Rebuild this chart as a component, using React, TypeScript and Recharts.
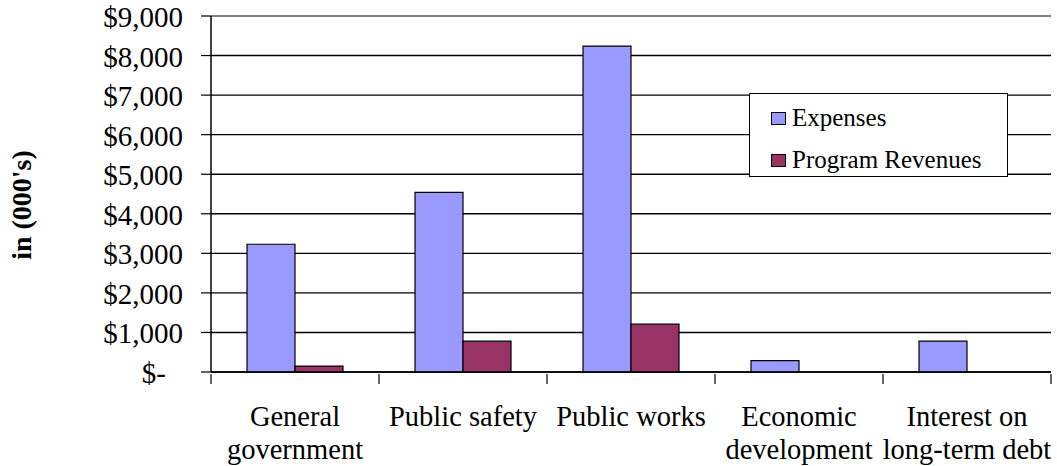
import React from 'react';
import { BarChart, Bar, XAxis, YAxis, CartesianGrid, Legend, ReferenceLine } from 'recharts';

const categories = ['General\ngovernment', 'Public safety', 'Public works', 'Economic\ndevelopment', 'Interest on\nlong-term debt'];
const expenses = [3230, 4540, 8240, 290, 780];
const programRevenues = [150, 780, 1210, 0, 0];
const yTicks = [0, 1000, 2000, 3000, 4000, 5000, 6000, 7000, 8000, 9000];

const data = categories.map((c, i) => ({ name: c, expenses: expenses[i], revenues: programRevenues[i] }));

const FONT = "'Liberation Serif', 'Times New Roman', serif";

const fmt = (v: number) => (v === 0 ? '$-' : '$' + v.toLocaleString('en-US'));

const YTick = (props: any) => {
  const { x, y, payload } = props;
  const v = payload.value as number;
  return (
    <text x={x - (v === 0 ? 17 : 0)} y={y + 11} textAnchor="end" style={{ fontFamily: FONT }} fontSize={29} fill="#000">
      {fmt(v)}
    </text>
  );
};

const XTick = (props: any) => {
  const { x, y, payload, index, visibleTicksCount } = props;
  const half = payload.offset || 84;
  const lines = String(payload.value).split('\n');
  const axisY = y - 8;
  return (
    <g>
      <line x1={x - half} x2={x - half} y1={axisY} y2={axisY + 10} stroke="#000" strokeWidth={1.2} />
      {index === visibleTicksCount - 1 && (
        <line x1={x + half} x2={x + half} y1={axisY} y2={axisY + 10} stroke="#000" strokeWidth={1.2} />
      )}
      {lines.map((l, i) => (
        <text key={i} x={x} y={axisY + 52 + i * 33} textAnchor="middle" style={{ fontFamily: FONT }} fontSize={28.5} fill="#000">
          {l}
        </text>
      ))}
    </g>
  );
};

const YLabel = () => (
  <text x={31} y={205} transform="rotate(-90, 31, 205)" textAnchor="middle" style={{ fontFamily: FONT }} fontSize={28} fontWeight="bold" fill="#000">
    in (000's)
  </text>
);

const LegendContent = (props: any) => {
  const { payload } = props;
  return (
    <div style={{ position: 'relative', width: 259, height: 84, border: '1.5px solid #000', boxSizing: 'border-box', background: '#fff' }}>
      {(payload || []).map((p: any, i: number) => (
        <div key={i} style={{ position: 'absolute', left: 21, top: 9 + i * 42, height: 30, display: 'flex', alignItems: 'center' }}>
          <div style={{ width: 13, height: 11, background: p.color, border: '1.5px solid #000', marginRight: 6 }} />
          <span style={{ fontFamily: FONT, fontSize: 25, color: '#000', lineHeight: '30px' }}>{p.value}</span>
        </div>
      ))}
    </div>
  );
};

export default function App() {
  return (
    <div style={{ position: 'absolute', left: 0, top: 0, width: 1057, height: 466, background: '#fff' }}>
      <BarChart
        width={1057}
        height={466}
        data={data}
        margin={{ top: 16, right: 6, left: 0, bottom: 0 }}
        barCategoryGap="21.43%"
        barGap={0}
      >
        <CartesianGrid vertical={false} stroke="#000" strokeWidth={1.4} />
        <XAxis
          dataKey="name"
          height={94}
          tick={<XTick />}
          tickLine={false}
          axisLine={{ stroke: '#000', strokeWidth: 1.5 }}
          interval={0}
          tickSize={8}
        />
        <YAxis
          width={211}
          domain={[0, 9000]}
          ticks={yTicks}
          interval={0}
          tick={<YTick />}
          tickSize={10}
          tickMargin={18}
          tickLine={{ stroke: '#000', strokeWidth: 1.2 }}
          axisLine={{ stroke: '#000', strokeWidth: 1.5 }}
          label={<YLabel />}
        />
        <YAxis yAxisId="r" orientation="right" width={0} tick={false} tickLine={false} axisLine={{ stroke: '#808080', strokeWidth: 1.5 }} domain={[0, 9000]} />
        <ReferenceLine y={9000} stroke="#808080" strokeWidth={2} />
        <Legend
          layout="horizontal"
          verticalAlign="middle"
          align="center"
          content={<LegendContent />}
          wrapperStyle={{ position: 'absolute', left: 749, top: 93, width: 259, height: 84 }}
        />
        <Bar dataKey="expenses" name="Expenses" fill="#9999FF" stroke="#000" strokeWidth={1.2} isAnimationActive={false} />
        <Bar dataKey="revenues" name="Program Revenues" fill="#993366" stroke="#000" strokeWidth={1.2} isAnimationActive={false} />
      </BarChart>
    </div>
  );
}
